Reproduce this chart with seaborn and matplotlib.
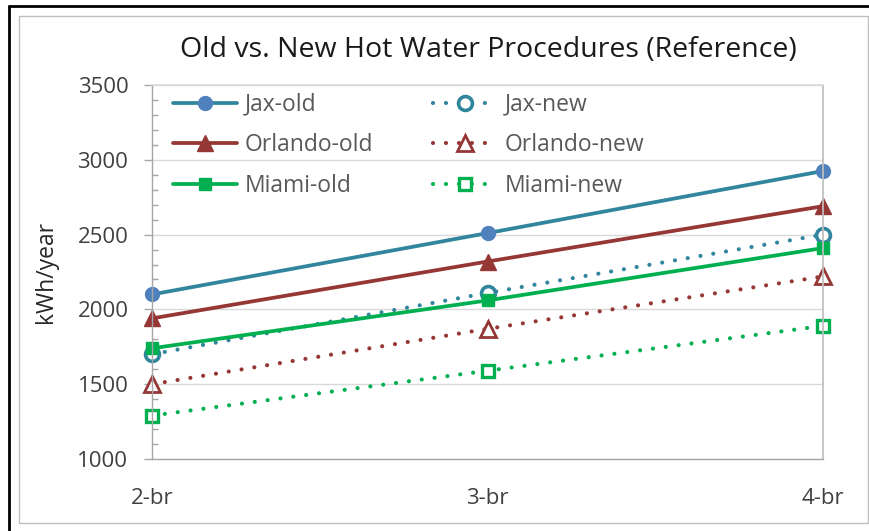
import matplotlib
matplotlib.use('Agg')
import matplotlib.pyplot as plt
import seaborn as sns
from matplotlib.lines import Line2D
from matplotlib.patches import Rectangle
from matplotlib.ticker import MultipleLocator

# data
categories = ['2-br', '3-br', '4-br']
jax_old = [2100, 2510, 2925]
orlando_old = [1940, 2320, 2690]
miami_old = [1740, 2060, 2410]
jax_new = [1700, 2110, 2500]
orlando_new = [1500, 1870, 2220]
miami_new = [1290, 1590, 1890]

TEAL = '#31859C'
BLUE = '#4F81BD'
RED = '#953735'
GREEN = '#00B050'

sns.set_theme(style='white')
plt.rcParams['font.family'] = ['Open Sans', 'DejaVu Sans']

fig = plt.figure(figsize=(8.7, 5.31), dpi=100)
ax = fig.add_axes([152 / 870, 1 - 459 / 531, (823 - 152) / 870, (459 - 85) / 531])

dot = (0, (0.01, 3.1))
# new series first so the old markers sit on top, as in the reference
series = [
    ('Jax-new', jax_new, dict(color=TEAL, marker='o', markersize=10, markerfacecolor='white',
                              markeredgecolor=TEAL, markeredgewidth=2.6, linestyle=dot, linewidth=3.0)),
    ('Orlando-new', orlando_new, dict(color=RED, marker='^', markersize=11, markerfacecolor='white',
                                      markeredgecolor=RED, markeredgewidth=2.0, linestyle=dot, linewidth=3.0)),
    ('Miami-new', miami_new, dict(color=GREEN, marker='s', markersize=9, markerfacecolor='white',
                                  markeredgecolor=GREEN, markeredgewidth=2.4, linestyle=dot, linewidth=3.0)),
    ('Jax-old', jax_old, dict(color=TEAL, marker='o', markersize=10, markerfacecolor=BLUE,
                              markeredgecolor=BLUE, markeredgewidth=1, linestyle='-', linewidth=2.7)),
    ('Orlando-old', orlando_old, dict(color=RED, marker='^', markersize=12, markerfacecolor=RED,
                                      markeredgecolor=RED, markeredgewidth=1, linestyle='-', linewidth=2.7)),
    ('Miami-old', miami_old, dict(color=GREEN, marker='s', markersize=9, markerfacecolor=GREEN,
                                  markeredgecolor=GREEN, markeredgewidth=1, linestyle='-', linewidth=2.7)),
]

for name, vals, kw in series:
    sns.lineplot(x=categories, y=vals, ax=ax, label=name,
                 dash_capstyle='round', clip_on=False, sort=False, **kw)

ax.set_xlim(0, 2)
ax.set_ylim(1000, 3500)
ax.yaxis.set_major_locator(MultipleLocator(500))
ax.yaxis.set_minor_locator(MultipleLocator(100))
ax.grid(axis='y', color='#D9D9D9', linewidth=1)
ax.set_axisbelow(True)

for side in ['left', 'bottom']:
    ax.spines[side].set_color('#A6A6A6')
    ax.spines[side].set_linewidth(1)
ax.spines['right'].set_color('#BFBFBF')
ax.spines['top'].set_color('#D9D9D9')

ax.tick_params(axis='y', which='major', direction='out', length=6, width=1,
               color='#A6A6A6', pad=11, labelsize=16, labelcolor='#404040', left=True)
ax.tick_params(axis='y', which='minor', direction='in', length=4, width=1,
               color='#A6A6A6', left=True)
ax.tick_params(axis='x', length=0, pad=21, labelsize=16, labelcolor='#404040')

ax.set_xlabel('')
ax.set_ylabel('kWh/year', fontsize=16.5, color='#262626', labelpad=14)

fig.text(0.561, 1 - 50 / 531, 'Old vs. New Hot Water Procedures (Reference)',
         ha='center', va='center', fontsize=20.5, color='#1A1A1A')

order = ['Jax-old', 'Orlando-old', 'Miami-old', 'Jax-new', 'Orlando-new', 'Miami-new']
handles, labels = ax.get_legend_handles_labels()
lookup = dict(zip(labels, handles))
ax.legend([lookup[k] for k in order], order, ncol=2, frameon=False,
          loc='upper left', bbox_to_anchor=(0.0, 1.035), fontsize=16.5,
          handlelength=2.8, columnspacing=2.6, labelspacing=0.72,
          handletextpad=0.35, labelcolor='#595959')

# chart frame like the screenshot
fig.add_artist(Rectangle((19 / 870, 1 - 523 / 531), (868 - 19) / 870, (523 - 16) / 531,
                         transform=fig.transFigure, fill=False, edgecolor='#BFBFBF', linewidth=1))
fig.add_artist(Line2D([9 / 870, 1], [1 - 6 / 531, 1 - 6 / 531], transform=fig.transFigure,
                      color='black', linewidth=2))
fig.add_artist(Line2D([9 / 870, 9 / 870], [0, 1 - 6 / 531], transform=fig.transFigure,
                      color='black', linewidth=2))

fig.savefig('out.png', dpi=100)
